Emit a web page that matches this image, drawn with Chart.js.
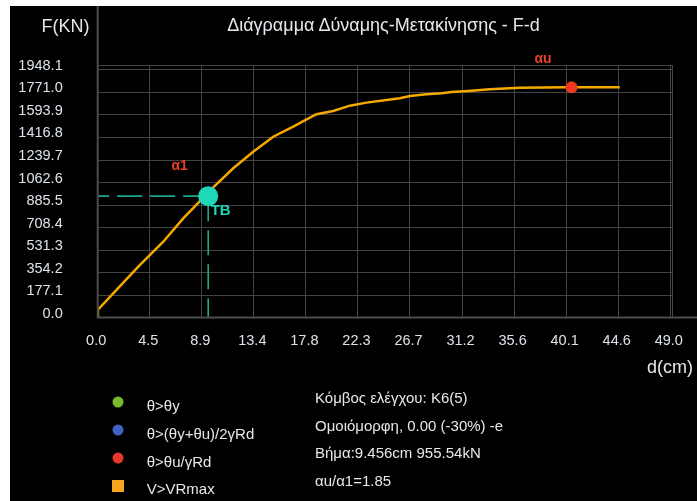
<!DOCTYPE html>
<html>
<head>
<meta charset="utf-8">
<script src="https://cdn.jsdelivr.net/npm/chart.js@4/dist/chart.umd.min.js"></script>
<style>
  html, body { margin: 0; padding: 0; background: #fff; width: 697px; height: 501px; overflow: hidden; }
  #panel { position: absolute; left: 10px; top: 6px; width: 687px; height: 495px; background: #000; }
  #chart { position: absolute; left: 0; top: 0; }
  .txt { position: absolute; font-family: "Liberation Sans", Arial, sans-serif; color: #e4e8ec; white-space: nowrap; }
  .big { font-size: 18px; }
  .small { font-size: 15px; }
  .mk { position: absolute; width: 11px; height: 11px; border-radius: 50%; transform: translate(-50%, -50%); }
  .sq { position: absolute; width: 12px; height: 12px; transform: translate(-50%, -50%); }
</style>
</head>
<body>
<div id="panel"><canvas id="chart" width="687" height="495"></canvas></div>

<div class="txt big" style="left:383.5px; top:25px; transform:translate(-50%,-50%);">Διάγραμμα Δύναμης-Μετακίνησης - F-d</div>
<div class="txt big" style="left:89.5px; top:25.5px; transform:translate(-100%,-50%);">F(KN)</div>
<div class="txt big" style="left:693px; top:366.7px; transform:translate(-100%,-50%);">d(cm)</div>

<span class="mk" style="left:118.3px; top:401.7px; background:#7ab82c;"></span>
<span class="mk" style="left:118.3px; top:430px; background:#4262c2;"></span>
<span class="mk" style="left:118.3px; top:458.3px; background:#e6372a;"></span>
<span class="sq" style="left:118.3px; top:486px; background:#f7a61e;"></span>
<div class="txt small" style="left:146.7px; top:405px; transform:translateY(-50%);">θ&gt;θy</div>
<div class="txt small" style="left:146.7px; top:433.3px; transform:translateY(-50%);">θ&gt;(θy+θu)/2γRd</div>
<div class="txt small" style="left:146.7px; top:461px; transform:translateY(-50%);">θ&gt;θu/γRd</div>
<div class="txt small" style="left:146.7px; top:488px; transform:translateY(-50%);">V&gt;VRmax</div>

<div class="txt small" style="left:315px; top:396.7px; transform:translateY(-50%);">Κόμβος ελέγχου: K6(5)</div>
<div class="txt small" style="left:315px; top:425px; transform:translateY(-50%);">Ομοιόμορφη, 0.00 (-30%) -e</div>
<div class="txt small" style="left:315px; top:451.7px; transform:translateY(-50%);">Βήμα:9.456cm 955.54kN</div>
<div class="txt small" style="left:315px; top:480px; transform:translateY(-50%);">αu/α1=1.85</div>

<script>
// Pushover curve: displacement d (cm) against base force F (kN)
const dispCm = [0, 0.02, 1.91, 3.62, 5.61, 7.32, 9.89, 11.60, 13.31, 15.02, 16.73, 17.88, 18.73, 20.15, 21.58, 23.01, 24.72, 25.86, 26.72, 28.14, 29.43, 30.28, 31.70, 33.56, 36.12, 40.12, 44.68];
const forceKn = [0, 62, 248, 414, 597, 781, 1025, 1175, 1305, 1423, 1502, 1560, 1600, 1625, 1667, 1691, 1712, 1725, 1743, 1757, 1765, 1775, 1783, 1796, 1809, 1812, 1812];

// Target step (TB) and ultimate point (αu)
const stepPoint = { d: 9.456, f: 955.54 };
const ultimatePoint = { d: 40.55, f: 1811 };

// Axis ticks
const xTickValues = [0, 4.4545, 8.9091, 13.3636, 17.8182, 22.2727, 26.7273, 31.1818, 35.6364, 40.0909, 44.5455, 49.0];
const xTickLabels = ["0.0", "4.5", "8.9", "13.4", "17.8", "22.3", "26.7", "31.2", "35.6", "40.1", "44.6", "49.0"];
const yTickValues = [0, 177.1, 354.2, 531.3, 708.4, 885.5, 1062.6, 1239.7, 1416.8, 1593.9, 1771.0, 1948.1];
const yTickLabels = ["0.0", "177.1", "354.2", "531.3", "708.4", "885.5", "1062.6", "1239.7", "1416.8", "1593.9", "1771.0", "1948.1"];
const xMax = 49.15;
const yMax = 1987;

const curve = dispCm.map((d, i) => ({ x: d, y: forceKn[i] }));

// Axis lines run past the plot frame: left one up to the top edge, bottom one to the right edge
const axisLines = {
  id: 'axisLines',
  afterDraw(chart) {
    const { ctx, chartArea: a, width } = chart;
    ctx.save();
    ctx.strokeStyle = '#4c4c4c';
    ctx.lineWidth = 2;
    ctx.beginPath();
    ctx.moveTo(a.left, 0);
    ctx.lineTo(a.left, a.bottom);
    ctx.lineTo(width, a.bottom);
    ctx.stroke();
    ctx.restore();
  }
};

// Point captions (α1, TB, αu)
const pointCaptions = {
  id: 'pointCaptions',
  afterDatasetsDraw(chart) {
    const { ctx, scales: { x, y } } = chart;
    const px = x.getPixelForValue(stepPoint.d), py = y.getPixelForValue(stepPoint.f);
    const ux = x.getPixelForValue(ultimatePoint.d), uy = y.getPixelForValue(ultimatePoint.f);
    ctx.save();
    ctx.textAlign = 'center';
    ctx.textBaseline = 'middle';
    ctx.font = 'bold 14px "Liberation Sans", Arial, sans-serif';
    ctx.fillStyle = '#e8402a';
    ctx.fillText('α1', px - 28.5, py - 30);
    ctx.fillText('αu', ux - 28.5, uy - 28.5);
    ctx.fillStyle = '#1fd6b6';
    ctx.font = 'bold 15px "Liberation Sans", Arial, sans-serif';
    ctx.fillText('TB', px + 12.5, py + 15);
    ctx.restore();
  }
};

const tickFont = { family: '"Liberation Sans", Arial, sans-serif', size: 14.5 };

new Chart(document.getElementById('chart'), {
  type: 'line',
  data: {
    datasets: [
      {
        label: 'TB',
        data: [{ x: stepPoint.d, y: stepPoint.f }],
        showLine: false,
        pointRadius: 10,
        pointBackgroundColor: '#1fd8b8',
        pointBorderWidth: 0
      },
      {
        label: 'αu',
        data: [{ x: ultimatePoint.d, y: ultimatePoint.f }],
        showLine: false,
        pointRadius: 6,
        pointBackgroundColor: '#f0381e',
        pointBorderWidth: 0
      },
      {
        label: 'F step',
        data: [{ x: stepPoint.d, y: stepPoint.f }, { x: 0, y: stepPoint.f }],
        borderColor: '#19a98d',
        borderWidth: 1.6,
        borderDash: [25, 8],
        pointRadius: 0
      },
      {
        label: 'd step',
        data: [{ x: stepPoint.d, y: stepPoint.f }, { x: stepPoint.d, y: 0 }],
        borderColor: '#19a98d',
        borderWidth: 1.6,
        borderDash: [25, 9],
        pointRadius: 0
      },
      {
        label: 'F-d',
        data: curve,
        borderColor: '#f5a800',
        borderWidth: 2.5,
        pointRadius: 0,
        tension: 0
      }
    ]
  },
  options: {
    responsive: false,
    animation: false,
    devicePixelRatio: 1,
    layout: { padding: { top: 59, right: 25, left: 0, bottom: 0 } },
    plugins: { legend: { display: false }, tooltip: { enabled: false }, title: { display: false } },
    scales: {
      x: {
        type: 'linear',
        min: 0,
        max: xMax,
        afterBuildTicks: s => { s.ticks = xTickValues.map(v => ({ value: v })).concat([{ value: xMax }]); },
        afterFit: s => { s.height = 183.4; },
        grid: { color: '#444', lineWidth: 1, drawTicks: false },
        border: { display: false },
        ticks: {
          autoSkip: false,
          maxRotation: 0,
          padding: 15,
          labelOffset: -1.5,
          color: '#dde3ea',
          font: tickFont,
          callback: (v, i) => xTickLabels[i] ?? ''
        }
      },
      y: {
        type: 'linear',
        min: 0,
        max: yMax,
        afterBuildTicks: s => { s.ticks = yTickValues.map(v => ({ value: v })).concat([{ value: yMax }]); },
        afterFit: s => { s.width = 87.7; },
        grid: { color: '#444', lineWidth: 1, drawTicks: false },
        border: { display: false },
        ticks: {
          autoSkip: false,
          padding: 35,
          labelOffset: -4,
          color: '#dde3ea',
          font: tickFont,
          callback: (v, i) => yTickLabels[i] ?? ''
        }
      }
    }
  },
  plugins: [axisLines, pointCaptions]
});
</script>
</body>
</html>
